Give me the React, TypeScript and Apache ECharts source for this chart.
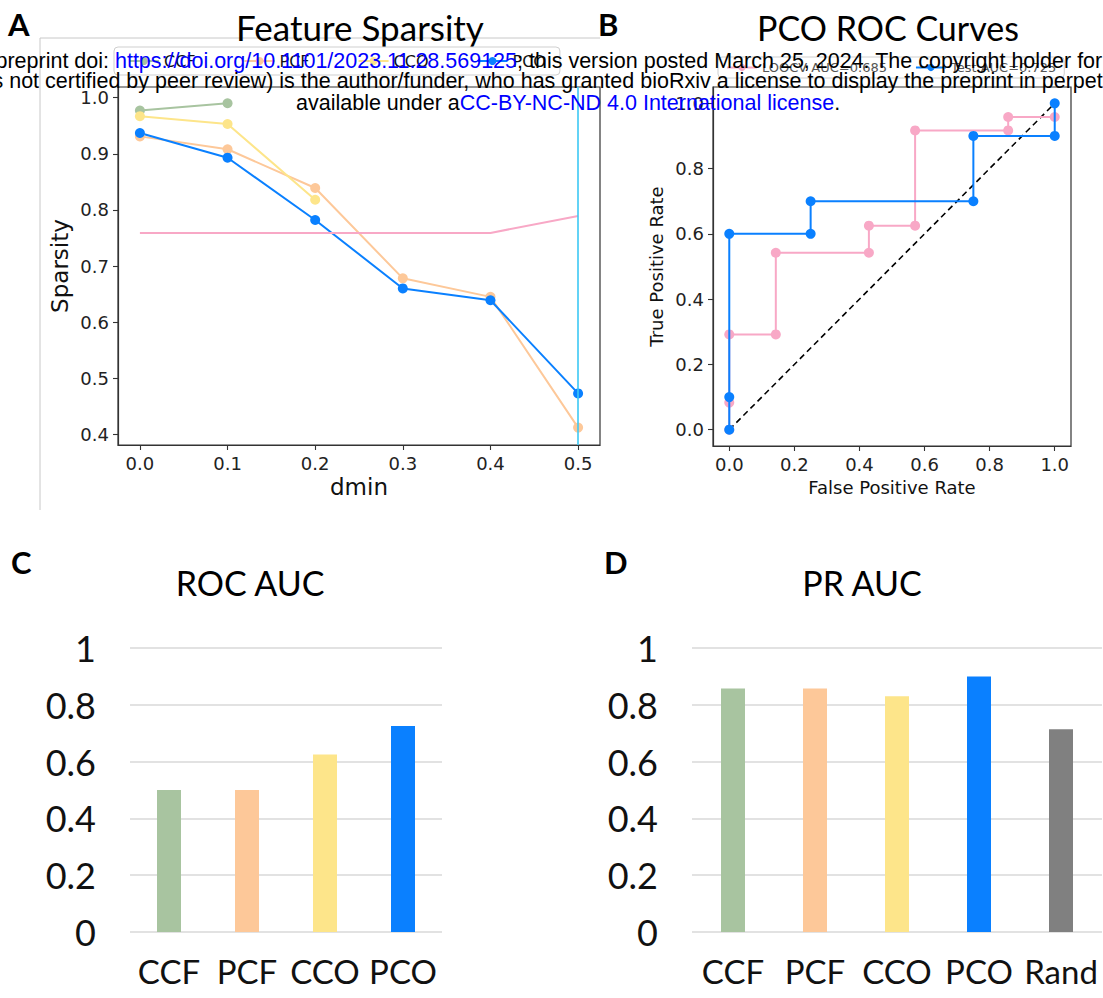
import React, { useEffect, useRef } from 'react';
import * as echarts from 'echarts';

// ---------- Panel A: Feature Sparsity ----------
const dminTicks = [0, 0.1, 0.2, 0.3, 0.4, 0.5];
const sparsityTicks = [0.4, 0.5, 0.6, 0.7, 0.8, 0.9, 1.0];
const ccfSparsity = [[0, 0.977], [0.1, 0.99]];
const pcfSparsity = [[0, 0.931], [0.1, 0.908], [0.2, 0.839], [0.3, 0.678], [0.4, 0.645], [0.5, 0.412]];
const ccoSparsity = [[0, 0.967], [0.1, 0.953], [0.2, 0.818]];
const pcoSparsity = [[0, 0.937], [0.1, 0.893], [0.2, 0.782], [0.3, 0.66], [0.4, 0.639], [0.5, 0.473]];
const baselineSparsity = [[0, 0.759], [0.1, 0.759], [0.2, 0.759], [0.3, 0.759], [0.4, 0.759], [0.5, 0.789]];
const chosenDmin = 0.5;
const sparsityLegend = ['CCF', 'PCF', 'CCO', 'PCO'];

// ---------- Panel B: PCO ROC Curves ----------
const rocTicks = [0, 0.2, 0.4, 0.6, 0.8, 1.0];
const loocvFpr = [0, 0, 0, 0.143, 0.143, 0.429, 0.429, 0.571, 0.571, 0.857, 0.857, 1.0];
const loocvTpr = [0, 0.083, 0.292, 0.292, 0.542, 0.542, 0.625, 0.625, 0.917, 0.917, 0.958, 0.958];
const testFpr = [0, 0, 0, 0.25, 0.25, 0.75, 0.75, 1.0, 1.0];
const testTpr = [0, 0.1, 0.6, 0.6, 0.7, 0.7, 0.9, 0.9, 1.0];
const chanceLine = [[0, 0], [1, 1]];
const loocvName = 'LOOCV AUC=0.685';
const testName = 'Test AUC=0.725';

// ---------- Panels C, D: bar charts ----------
const rocCategories = ['CCF', 'PCF', 'CCO', 'PCO'];
const rocAucValues = [0.5, 0.5, 0.625, 0.725];
const prCategories = ['CCF', 'PCF', 'CCO', 'PCO', 'Rand'];
const prAucValues = [0.857, 0.857, 0.83, 0.9, 0.714];
const barTicks = [0, 0.2, 0.4, 0.6, 0.8, 1];

const COLORS: Record<string, string> = {
  CCF: '#a8c4a0',
  PCF: '#fdc899',
  CCO: '#fde58a',
  PCO: '#0a80ff',
  Rand: '#808080',
};
const PINK = '#f8a8c6';
const CYAN = '#3cc8f4';
const MPL = 'DejaVu Sans';
const SANS = 'Lato';
const HEADER_FONT = 21.5;

const zip = (a: number[], b: number[]) => a.map((v, i) => [v, b[i]]);

export default function App() {
  const ref = useRef<HTMLDivElement>(null);
  useEffect(() => {
    if (!ref.current) return;
    const chart = echarts.init(ref.current, undefined, { renderer: 'svg' });

    const mplValueAxis = (gridIndex: number, min: number, max: number, ticks: number[], extra: any = {}) => ({
      type: 'value',
      gridIndex,
      min,
      max,
      axisLine: { show: true, onZero: false, lineStyle: { color: '#333', width: 1.2 } },
      axisTick: { show: true, inside: false, length: 5, customValues: ticks, lineStyle: { color: '#333', width: 1.1 } },
      axisLabel: {
        customValues: ticks,
        formatter: (v: number) => v.toFixed(1),
        fontFamily: MPL,
        fontSize: 18,
        color: '#222',
        margin: 9,
      },
      splitLine: { show: false },
      ...extra,
    });

    const barYAxis = (gridIndex: number) => ({
      type: 'value',
      gridIndex,
      min: 0,
      max: 1,
      interval: 0.2,
      axisLine: { show: false },
      axisTick: { show: false },
      axisLabel: {
        customValues: barTicks,
        formatter: (v: number) => (v === 0 || v === 1 ? String(v) : v.toFixed(1)),
        fontFamily: SANS,
        fontSize: 36,
        color: '#111',
        margin: 34,
      },
      splitLine: { show: true, lineStyle: { color: '#d9d9d9', width: 1.5 } },
    });

    const barXAxis = (gridIndex: number, cats: string[]) => ({
      type: 'category',
      gridIndex,
      data: cats,
      axisLine: { show: false },
      axisTick: { show: false },
      axisLabel: { interval: 0, fontFamily: SANS, fontSize: 33, color: '#111', margin: 22 },
    });

    const lineSeries = (name: string, data: number[][], color: string, xi: number, extra: any = {}) => ({
      type: 'line',
      name,
      xAxisIndex: xi,
      yAxisIndex: xi,
      data,
      symbol: 'circle',
      symbolSize: 10,
      showSymbol: true,
      lineStyle: { color, width: 2 },
      itemStyle: { color },
      ...extra,
    });

    const headerRich = {
      k: { fill: '#000', fontSize: HEADER_FONT, fontFamily: 'Liberation Sans' },
      b: { fill: '#0000ff', fontSize: HEADER_FONT, fontFamily: 'Liberation Sans' },
    };

    const titleText = (text: string, x: number, y: number, size = 34) => ({
      type: 'text',
      x,
      y,
      style: { text, fontFamily: SANS, fontSize: size, fill: '#000', align: 'center', verticalAlign: 'middle' },
    });
    const letter = (text: string, x: number, y: number) => ({
      type: 'text',
      x,
      y,
      style: { text, fontFamily: SANS, fontWeight: 'bold', fontSize: 31, fill: '#000', align: 'left', verticalAlign: 'middle' },
    });

    const option: any = {
      animation: false,
      backgroundColor: '#fff',
      grid: [
        { left: 118, top: 87, width: 482, height: 358, show: true, borderColor: '#333', borderWidth: 1.2, backgroundColor: 'transparent' },
        { left: 713, top: 87, width: 358, height: 359, show: true, borderColor: '#333', borderWidth: 1.2, backgroundColor: 'transparent' },
        { left: 130, top: 648, width: 312, height: 284 },
        { left: 692, top: 648, width: 410, height: 284 },
      ],
      xAxis: [
        mplValueAxis(0, -0.025, 0.525, dminTicks, {
          name: 'dmin',
          nameLocation: 'middle',
          nameGap: 30,
          nameTextStyle: { fontFamily: MPL, fontSize: 23, color: '#111' },
        }),
        mplValueAxis(1, -0.05, 1.05, rocTicks, {
          name: 'False Positive Rate',
          nameLocation: 'middle',
          nameGap: 32,
          nameTextStyle: { fontFamily: MPL, fontSize: 18, color: '#111' },
        }),
        barXAxis(2, rocCategories),
        barXAxis(3, prCategories),
      ],
      yAxis: [
        mplValueAxis(0, 0.381, 1.019, sparsityTicks, {
          name: 'Sparsity',
          nameLocation: 'middle',
          nameGap: 47,
          nameTextStyle: { fontFamily: MPL, fontSize: 23, color: '#111' },
        }),
        mplValueAxis(1, -0.05, 1.05, rocTicks, {
          name: 'True Positive Rate',
          nameLocation: 'middle',
          nameGap: 48,
          nameTextStyle: { fontFamily: MPL, fontSize: 18, color: '#111' },
        }),
        barYAxis(2),
        barYAxis(3),
      ],
      legend: [
        {
          data: sparsityLegend,
          left: 114,
          top: 47,
          orient: 'horizontal',
          itemWidth: 30,
          itemHeight: 10,
          itemGap: 48,
          padding: [6, 14],
          borderColor: '#cfcfcf',
          borderWidth: 1,
          borderRadius: 4,
          backgroundColor: 'rgba(255,255,255,0.8)',
          textStyle: { fontFamily: MPL, fontSize: 16, color: '#111' },
        },
        {
          data: [loocvName, testName],
          left: 718,
          top: 57,
          orient: 'horizontal',
          itemWidth: 30,
          itemHeight: 9,
          itemGap: 28,
          padding: [4, 8],
          borderColor: '#cfcfcf',
          borderWidth: 1,
          borderRadius: 4,
          backgroundColor: 'rgba(255,255,255,0.8)',
          textStyle: { fontFamily: MPL, fontSize: 13, color: '#555' },
        },
      ],
      series: [
        // Panel A
        lineSeries('CCF', ccfSparsity, COLORS.CCF, 0),
        lineSeries('PCF', pcfSparsity, COLORS.PCF, 0),
        lineSeries('CCO', ccoSparsity, COLORS.CCO, 0),
        lineSeries('PCO', pcoSparsity, COLORS.PCO, 0),
        lineSeries('Baseline', baselineSparsity, PINK, 0, {
          symbol: 'none',
          showSymbol: false,
          markLine: {
            silent: true,
            symbol: 'none',
            label: { show: false },
            lineStyle: { color: CYAN, width: 1.6, type: 'solid' },
            data: [{ xAxis: chosenDmin }],
          },
        }),
        // Panel B
        {
          type: 'line',
          name: 'chance',
          xAxisIndex: 1,
          yAxisIndex: 1,
          data: chanceLine,
          symbol: 'none',
          lineStyle: { color: '#000', width: 1.6, type: [6, 4] },
          z: 1,
        },
        lineSeries(loocvName, zip(loocvFpr, loocvTpr), PINK, 1, { z: 2 }),
        lineSeries(testName, zip(testFpr, testTpr), COLORS.PCO, 1, { z: 3 }),
        // Panel C
        {
          type: 'bar',
          name: 'ROC AUC',
          xAxisIndex: 2,
          yAxisIndex: 2,
          barWidth: 24,
          data: rocAucValues.map((v, i) => ({ value: v, itemStyle: { color: COLORS[rocCategories[i]] } })),
        },
        // Panel D
        {
          type: 'bar',
          name: 'PR AUC',
          xAxisIndex: 3,
          yAxisIndex: 3,
          barWidth: 24,
          data: prAucValues.map((v, i) => ({ value: v, itemStyle: { color: COLORS[prCategories[i]] } })),
        },
      ],
      graphic: [
        { type: 'line', shape: { x1: 40, y1: 38, x2: 600, y2: 38 }, style: { stroke: '#c8c8c8', lineWidth: 1 } },
        { type: 'line', shape: { x1: 40, y1: 38, x2: 40, y2: 510 }, style: { stroke: '#c8c8c8', lineWidth: 1 } },
        titleText('Feature Sparsity', 360, 27, 35),
        titleText('PCO ROC Curves', 888, 27, 34),
        titleText('ROC AUC', 250, 582),
        titleText('PR AUC', 862, 582),
        letter('A', 8, 24),
        letter('B', 598, 24),
        letter('C', 11, 562),
        letter('D', 604, 562),
        {
          type: 'text',
          x: -81,
          y: 61,
          z: 100,
          style: {
            text: '{k|bioRxiv preprint doi: }{b|https://doi.org/10.1101/2023.11.28.569125}{k|; this version posted March 25, 2024. The copyright holder for this preprint (which}',
            rich: headerRich,
            fontSize: HEADER_FONT,
            fontFamily: 'Liberation Sans',
            verticalAlign: 'middle',
          },
        },
        {
          type: 'text',
          x: -35,
          y: 81,
          z: 100,
          style: {
            text: '{k|was not certified by peer review) is the author/funder, who has granted bioRxiv a license to display the preprint in perpetuity. It is made}',
            rich: headerRich,
            fontSize: HEADER_FONT,
            fontFamily: 'Liberation Sans',
            verticalAlign: 'middle',
          },
        },
        {
          type: 'text',
          x: 296,
          y: 103,
          z: 100,
          style: {
            text: '{k|available under a}{b|CC-BY-NC-ND 4.0 International license}{k|.}',
            rich: headerRich,
            fontSize: HEADER_FONT,
            fontFamily: 'Liberation Sans',
            verticalAlign: 'middle',
          },
        },
      ],
    };

    chart.setOption(option);
    return () => chart.dispose();
  }, []);

  return (
    <div
      ref={ref}
      style={{ position: 'fixed', left: 0, top: 0, width: 1103, height: 998, background: '#fff' }}
    />
  );
}
